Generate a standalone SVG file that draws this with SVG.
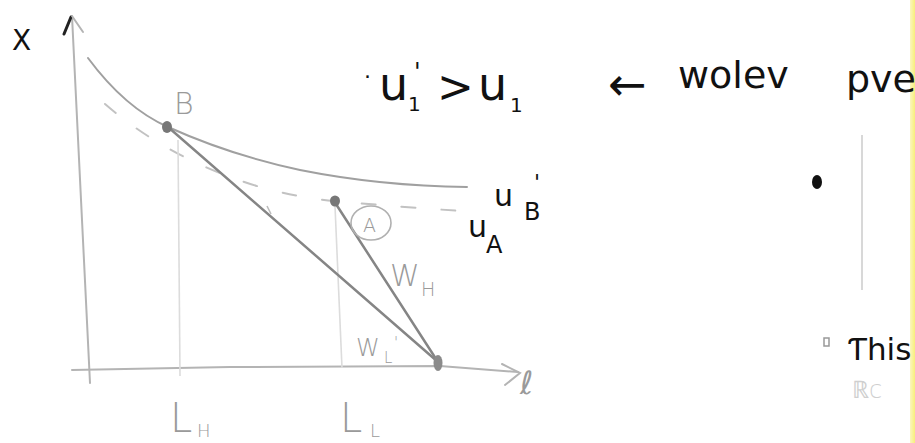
<svg xmlns="http://www.w3.org/2000/svg" width="915" height="443" viewBox="0 0 915 443">
<defs>
<linearGradient id="yel" x1="0" y1="0" x2="1" y2="0">
<stop offset="0" stop-color="#fbf6c0"/>
<stop offset="1" stop-color="#f7ef7a"/>
</linearGradient>
<style>
.ax{fill:none;stroke:#b4b4b4;stroke-width:2;stroke-linecap:round}
.cv{fill:none;stroke:#a0a0a0;stroke-width:2;stroke-linecap:round}
.dash{fill:none;stroke:#c2c2c2;stroke-width:2;stroke-dasharray:14 26;stroke-linecap:round}
.ln{fill:none;stroke:#858585;stroke-width:2.5;stroke-linecap:round}
.faint{fill:none;stroke:#dcdcdc;stroke-width:1.6}
.hw{font-family:"DejaVu Sans","Liberation Sans",sans-serif;fill:#111}
.hg{font-family:"DejaVu Sans","Liberation Sans",sans-serif;fill:#9a9a9a;font-weight:300}
</style>
</defs>
<rect width="915" height="443" fill="#ffffff"/>
<rect x="910" y="0" width="5" height="443" fill="url(#yel)"/>

<g id="axes">
<path class="ax" d="M72,16 L90,383"/>
<path d="M64,34 L71,17" stroke="#222" stroke-width="3" fill="none" stroke-linecap="round"/>
<path class="ax" d="M72,16 L83,32"/>
<path class="ax" d="M72,370 L230,367 L440,366 L518,372"/>
<path class="ax" d="M502,364 L520,373 L505,385"/>
</g>

<g id="connectors">
<path class="cv" d="M88,58 Q125,108 168,127 Q230,155 300,170 Q380,186 467,187"/>
<path class="dash" d="M105,104 Q170,160 260,187 Q300,198 334,201 Q400,207 462,211"/>
<path class="faint" d="M178,140 L180,376"/>
<path class="faint" d="M335,206 L342,368"/>
<path class="ln" d="M168,127 L438,362"/>
<path class="ln" d="M334,201 L438,362"/>
<path d="M267,206 L271,214" stroke="#bbb" stroke-width="1.5"/>
</g>

<g id="node-B">
<ellipse cx="167" cy="127" rx="5" ry="6" fill="#777"/>
<text class="hg" x="174" y="114" font-size="30">B</text>
</g>

<g id="node-A">
<ellipse cx="335" cy="201" rx="5" ry="5.5" fill="#777"/>
<ellipse cx="371" cy="223" rx="20" ry="17" fill="none" stroke="#b0b0b0" stroke-width="1.6"/>
<text class="hg" x="363" y="232" font-size="19">A</text>
</g>

<g id="node-bottom">
<ellipse cx="438" cy="363" rx="4.5" ry="8" fill="#8a8a8a"/>
</g>

<g id="labels">
<text class="hw" x="12" y="50" font-size="28">X</text>
<text class="hw" x="364" y="84" font-size="22">·</text>
<text class="hw" x="379" y="100" font-size="46">u</text>
<text class="hw" x="408" y="111" font-size="20">1</text>
<text class="hw" x="414" y="80" font-size="24">'</text>
<text class="hw" x="437" y="102" font-size="44">&gt;</text>
<text class="hw" x="478" y="100" font-size="46">u</text>
<text class="hw" x="510" y="112" font-size="20">1</text>
<text class="hw" x="608" y="100" font-size="46">←</text>
<text class="hw" x="678" y="88" font-size="38">wolev</text>
<text class="hw" x="846" y="92" font-size="38">pve</text>
<text class="hw" x="494" y="206" font-size="30">u</text>
<text class="hw" x="534" y="190" font-size="22">'</text>
<text class="hw" x="524" y="220" font-size="24">B</text>
<text class="hw" x="468" y="237" font-size="30">u</text>
<text class="hw" x="486" y="253" font-size="24">A</text>
<text class="hg" x="390" y="286" font-size="30">W</text>
<text class="hg" x="421" y="296" font-size="19">H</text>
<text class="hg" x="356" y="356" font-size="24">W</text>
<text class="hg" x="384" y="363" font-size="15">L</text>
<text class="hg" x="394" y="348" font-size="15">'</text>
<text class="hg" x="520" y="394" font-size="32" font-style="italic">ℓ</text>
<text class="hg" x="170" y="432" font-size="40">L</text>
<text class="hg" x="197" y="437" font-size="18">H</text>
<text class="hg" x="340" y="432" font-size="40">L</text>
<text class="hg" x="370" y="437" font-size="18">L</text>
</g>

<g id="right-notes">
<ellipse cx="817" cy="182" rx="5" ry="7" fill="#111"/>
<path d="M862,135 L862,290" stroke="#d8d8d8" stroke-width="2"/>
<rect x="824" y="338" width="5" height="8" fill="none" stroke="#999" stroke-width="1.5"/>
<text class="hw" x="848" y="360" font-size="31">Ƭhis</text>
<text class="hg" x="852" y="398" font-size="24" style="fill:#cfcfcf">ℝc</text>
</g>
</svg>
